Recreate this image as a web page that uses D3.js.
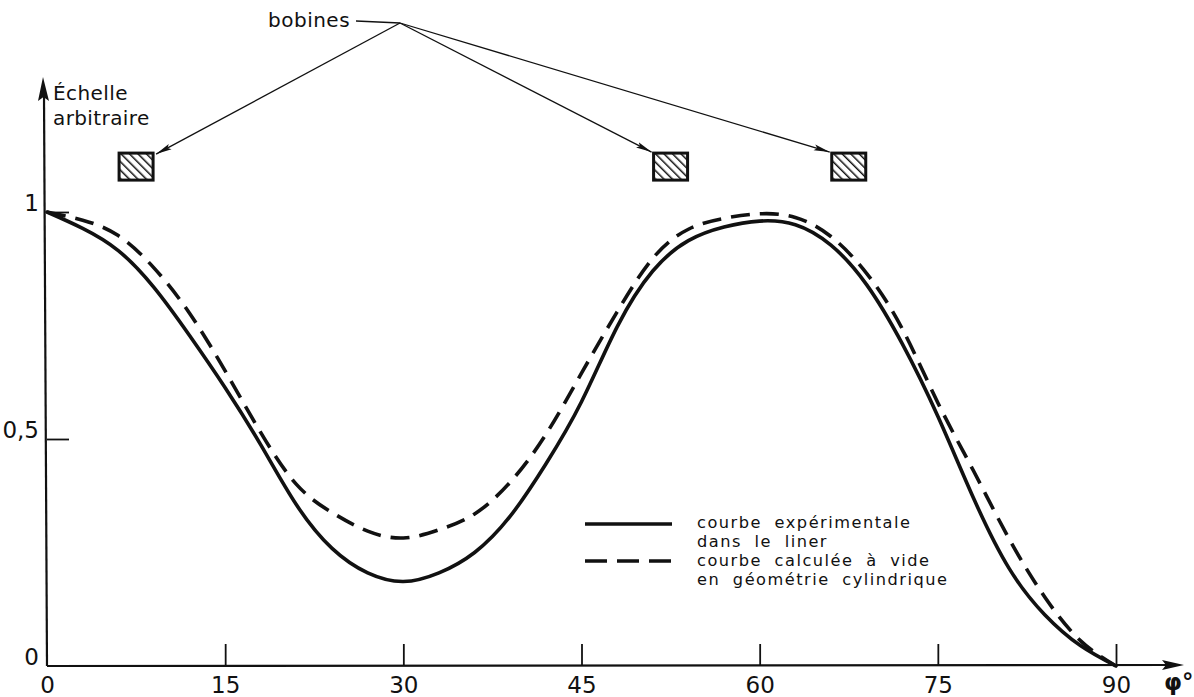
<!DOCTYPE html>
<html>
<head>
<meta charset="utf-8">
<script src="https://cdn.jsdelivr.net/npm/d3@7"></script>
<style>
  html, body { margin: 0; padding: 0; background: #fff; }
  svg { display: block; }
  text { font-family: "DejaVu Sans", sans-serif; fill: #111; }
</style>
</head>
<body>
<svg id="chart" width="1194" height="697"></svg>
<script>
// Angle φ in degrees
const phi = [0, 3, 6, 9, 12, 15, 18, 21, 24, 27, 30, 33, 36, 39, 42, 45,
             48, 51, 54, 57, 60, 63, 66, 69, 72, 75, 78, 81, 84, 87, 90];

// Measured curve inside the liner
const experimental = [1.0, 0.964, 0.915, 0.834, 0.728, 0.613, 0.487, 0.355, 0.259, 0.205, 0.186,
                      0.205, 0.25, 0.33, 0.445, 0.582, 0.747, 0.87, 0.937, 0.967, 0.98,
                      0.972, 0.927, 0.84, 0.71, 0.55, 0.37, 0.215, 0.113, 0.045, 0.0];

// Computed curve, empty, cylindrical geometry
const calculated = [1.0, 0.982, 0.948, 0.877, 0.777, 0.65, 0.514, 0.40, 0.338, 0.297, 0.282,
                    0.30, 0.335, 0.405, 0.51, 0.645, 0.78, 0.898, 0.962, 0.986, 0.996,
                    0.988, 0.946, 0.865, 0.743, 0.58, 0.43, 0.28, 0.152, 0.056, 0.0];

// Coil positions (angle, level on the arbitrary scale)
const coilAngles = [7.5, 52.5, 67.5];
const coilLevel = 1.1;

const xTicks = [0, 15, 30, 45, 60, 75, 90];
const yTicks = [0, 0.5, 1];
const yTickLabels = ["0", "0,5", "1"];

const legendLabels = [
  ["courbe expérimentale", "dans le liner"],
  ["courbe calculée à vide", "en géométrie cylindrique"]
];

const svg = d3.select("#chart");

const x = d3.scaleLinear().domain([0, 90]).range([47, 1116]);
const y = d3.scaleLinear().domain([0, 1]).range([666, 212]);

// arrow marker for annotation leaders
const defs = svg.append("defs");
defs.append("marker")
  .attr("id", "arrowhead")
  .attr("viewBox", "0 0 16 8")
  .attr("refX", 16).attr("refY", 4)
  .attr("markerWidth", 16).attr("markerHeight", 8)
  .attr("markerUnits", "userSpaceOnUse")
  .attr("orient", "auto")
  .append("path").attr("d", "M0,1 L16,4 L0,7 L3,4 Z").attr("fill", "#111");

// diagonal hatching for coil sections
const pat = defs.append("pattern")
  .attr("id", "hatch")
  .attr("patternUnits", "userSpaceOnUse")
  .attr("width", 6).attr("height", 6)
  .attr("patternTransform", "rotate(-45)");
pat.append("rect").attr("width", 6).attr("height", 6).attr("fill", "#fff");
pat.append("line").attr("x1", 0).attr("y1", 0).attr("x2", 0).attr("y2", 6)
  .attr("stroke", "#111").attr("stroke-width", 3);

// ---- axes ----
const xAxis = d3.axisBottom(x)
  .tickValues(xTicks)
  .tickSizeInner(-22)
  .tickSizeOuter(0)
  .tickFormat(d3.format("d"));

const gx = svg.append("g").attr("transform", `translate(0,${y(0)})`).call(xAxis);
gx.select(".domain").remove();
gx.selectAll(".tick line").attr("stroke", "#111").attr("stroke-width", 1.8)
  .filter(d => d === 0).remove();
gx.selectAll(".tick text")
  .attr("font-size", 23).attr("font-family", "Lato, sans-serif").attr("fill", "#111")
  .attr("y", 27).attr("dy", 0);

const yAxis = d3.axisLeft(y)
  .tickValues(yTicks)
  .tickSizeInner(-22)
  .tickSizeOuter(0)
  .tickFormat((d, i) => yTickLabels[i]);

const gy = svg.append("g").attr("transform", `translate(${x(0)},0)`).call(yAxis);
gy.select(".domain").remove();
gy.selectAll(".tick line").attr("stroke", "#111").attr("stroke-width", 1.8)
  .filter(d => d === 0).remove();
gy.selectAll(".tick text")
  .attr("font-size", 23).attr("font-family", "Lato, sans-serif").attr("fill", "#111")
  .attr("x", -8).attr("dy", "-0.05em");

// axis lines with arrows
svg.append("line")
  .attr("x1", x(0)).attr("y1", y(0)).attr("x2", 1168).attr("y2", y(0) - 1)
  .attr("stroke", "#111").attr("stroke-width", 2.2);
svg.append("path")
  .attr("d", `M1184,${y(0) - 1} L1162,${y(0) - 6} L1166,${y(0) - 1} L1162,${y(0) + 4} Z`)
  .attr("fill", "#111");

svg.append("line")
  .attr("x1", x(0)).attr("y1", y(0)).attr("x2", 44).attr("y2", 96)
  .attr("stroke", "#111").attr("stroke-width", 2.2);
svg.append("path")
  .attr("d", "M43,77 L38,101 L43.5,97 L49,101 Z")
  .attr("fill", "#111");

// axis titles
const yt = svg.append("text").attr("font-size", 20).attr("letter-spacing", 0.4);
yt.append("tspan").attr("x", 53).attr("y", 100).text("Échelle");
yt.append("tspan").attr("x", 53).attr("y", 125).text("arbitraire");

svg.append("text").attr("x", 1164).attr("y", 690).attr("font-size", 23)
  .attr("font-weight", "bold")
  .text("φ°");

// ---- curves ----
const line = d3.line()
  .x(d => x(d[0]))
  .y(d => y(d[1]))
  .curve(d3.curveNatural);

svg.append("path")
  .datum(phi.map((p, i) => [p, experimental[i]]))
  .attr("d", line)
  .attr("fill", "none").attr("stroke", "#111").attr("stroke-width", 3.6)
  .attr("stroke-linecap", "round");

svg.append("path")
  .datum(phi.map((p, i) => [p, calculated[i]]))
  .attr("d", line)
  .attr("fill", "none").attr("stroke", "#111").attr("stroke-width", 3.6)
  .attr("stroke-dasharray", "19,10");

// ---- coils and leader arrows ----
const coilW = 34, coilH = 27;
const hub = [400, 23];

svg.append("text").attr("x", 268).attr("y", 27).attr("font-size", 20)
  .attr("letter-spacing", 0.5).text("bobines");
svg.append("line")
  .attr("x1", 356).attr("y1", 21).attr("x2", hub[0]).attr("y2", hub[1])
  .attr("stroke", "#111").attr("stroke-width", 1.3);

svg.selectAll("line.leader")
  .data(coilAngles)
  .join("line")
  .attr("class", "leader")
  .attr("x1", hub[0]).attr("y1", hub[1])
  .attr("x2", (d, i) => i === 0 ? x(d) + coilW / 2 + 3 : x(d) - coilW / 2 - 2)
  .attr("y2", (d, i) => y(coilLevel) - coilH / 2 - (i === 0 ? -1 : 1))
  .attr("stroke", "#111").attr("stroke-width", 1.3)
  .attr("marker-end", "url(#arrowhead)");

svg.selectAll("rect.coil")
  .data(coilAngles)
  .join("rect")
  .attr("class", "coil")
  .attr("x", d => x(d) - coilW / 2)
  .attr("y", y(coilLevel) - coilH / 2)
  .attr("width", coilW).attr("height", coilH)
  .attr("fill", "url(#hatch)")
  .attr("stroke", "#111").attr("stroke-width", 3);

// ---- legend ----
const legend = svg.append("g");
const legendX0 = 585, legendX1 = 672, textX = 697;
const legendKeyY = [524, 561];
const legendTextY = [[528, 547], [566, 585]];
legend.selectAll("line.key")
  .data(legendKeyY)
  .join("line")
  .attr("class", "key")
  .attr("x1", legendX0).attr("x2", legendX1)
  .attr("y1", d => d).attr("y2", d => d)
  .attr("stroke", "#111").attr("stroke-width", 3.6)
  .attr("stroke-dasharray", (d, i) => i === 0 ? null : "22,10");

legendLabels.forEach((lines, i) => {
  const t = legend.append("text")
    .attr("font-size", 16.2)
    .attr("letter-spacing", 1.5)
    .attr("word-spacing", 6);
  lines.forEach((s, j) => {
    t.append("tspan").attr("x", textX).attr("y", legendTextY[i][j]).text(s);
  });
});
</script>
</body>
</html>
